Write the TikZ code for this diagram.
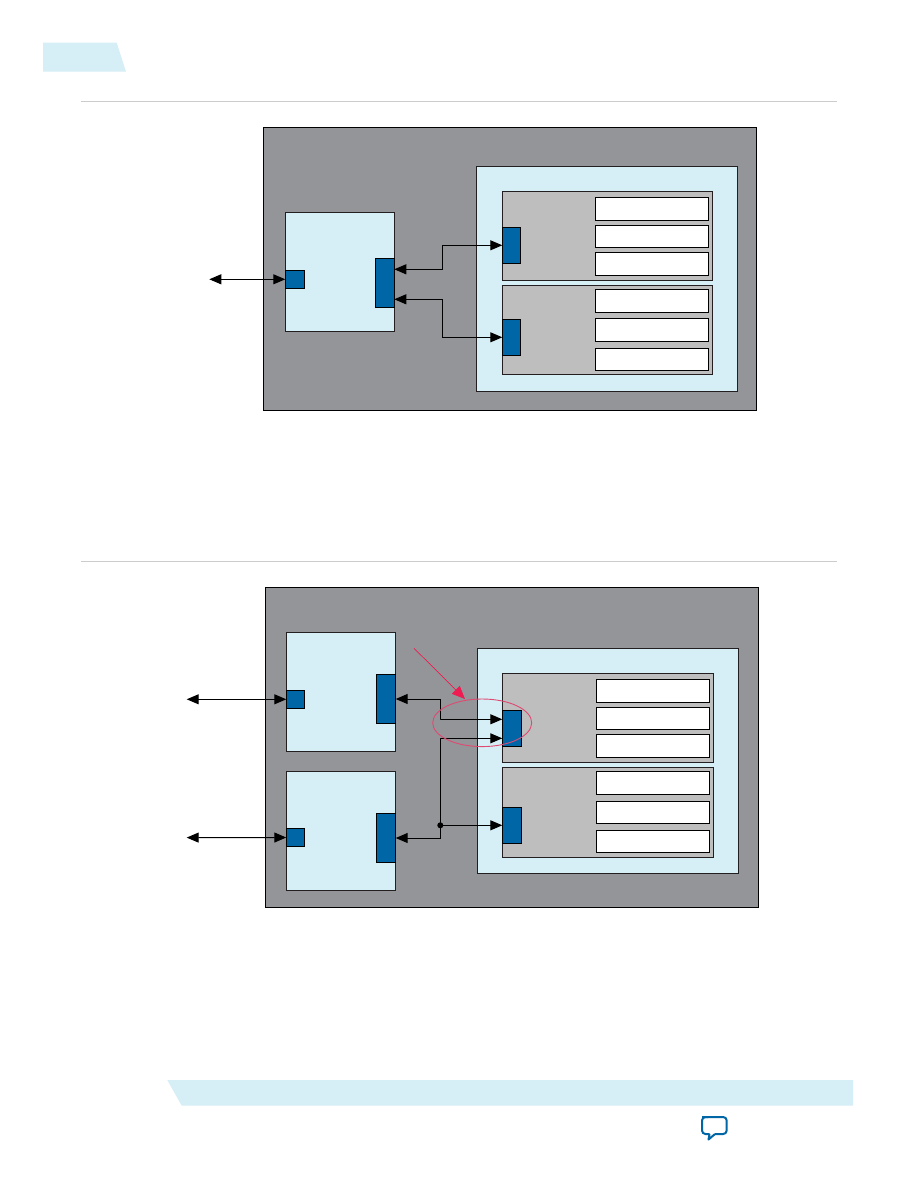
\documentclass[tikz,border=0pt]{standalone}
\usetikzlibrary{arrows.meta,calc,shapes.geometric}
\definecolor{outergrey}{HTML}{939598}
\definecolor{paleblue}{HTML}{D6EEF5}
\definecolor{midgrey}{HTML}{BEBEBE}
\definecolor{portblue}{HTML}{0066A6}
\definecolor{inkline}{HTML}{231F20}
\definecolor{rulegrey}{HTML}{CCCCCC}
\definecolor{markred}{HTML}{EE1C52}
\definecolor{ringred}{HTML}{DE4A72}
\tikzset{
  boxbase/.style={draw=inkline,line width=1pt,inner sep=0pt,outer sep=0pt,anchor=north west,rectangle},
  outerbox/.style={boxbase,fill=outergrey,draw=black},
  panelbox/.style={boxbase,fill=paleblue},
  greybox/.style={boxbase,fill=midgrey},
  whitebox/.style={boxbase,fill=white,draw=black},
  portbox/.style={boxbase,fill=portblue,draw=black},
  link/.style={line width=1pt,black,line join=miter},
  biarrow/.style={link,{Triangle[length=12pt,width=10pt]}-{Triangle[length=12pt,width=10pt]}},
  onearrow/.style={link,-{Triangle[length=12pt,width=10pt]}},
  rulel/.style={draw=rulegrey,line width=1pt},
  banner/.style={fill=paleblue,draw=none},
  joint/.style={circle,fill=black,inner sep=0pt,minimum size=6pt,outer sep=0pt},
  ring/.style={draw=ringred,line width=0.9pt,ellipse,inner sep=0pt,outer sep=0pt},
  pointer/.style={draw=markred,line width=0.7pt,-{Triangle[length=13pt,width=11pt,fill=markred]}},
}
% \bx{name}{style}{x1}{y1}{x2}{y2}
\newcommand{\bx}[6]{%
  \pgfmathsetmacro{\bw}{#5-#3}\pgfmathsetmacro{\bh}{#6-#4}%
  \node[#2,minimum width=\bw pt,minimum height=\bh pt] (#1) at (#3,#4) {};}
\begin{document}
\begin{tikzpicture}[x=1pt,y=-1pt]
\useasboundingbox (0,0) rectangle (918,1188);
\fill[white] (0,0) rectangle (918,1188);
% page furniture
\fill[banner] (43,42.7) -- (116.7,42.7) -- (126,71.7) -- (43,71.7) -- cycle;
\draw[rulel] (81,101.3) -- (837,101.3);
\draw[rulel] (81,561.3) -- (837,561.3);
\fill[banner] (167.3,1080) -- (853,1080) -- (853,1105.7) -- (181.7,1105.7) -- cycle;
\draw[portblue,line width=2pt,line join=round,rounded corners=3.5pt]
  (702,1117) -- (726.7,1117) -- (726.7,1134) -- (715,1134);
\draw[portblue,line width=2pt,line join=round]
  (715,1134) -- (708.5,1139.5) -- (709.5,1134);
\draw[portblue,line width=2pt,line join=round,rounded corners=3.5pt]
  (709.5,1134) -- (702,1134) -- (702,1117) -- (708,1117);
% ===== upper diagram =====
\bx{oA}{outerbox}{263.5}{127.5}{756.5}{410.5}
\bx{fA}{panelbox}{285.3}{212.3}{394.3}{331.3}
\bx{sA}{portbox}{285.3}{270.3}{304.7}{288.3}
\bx{rA}{portbox}{375.3}{258.3}{394.3}{307.7}
\bx{pA}{panelbox}{476.3}{166.3}{737.3}{391.3}
\bx{gA}{greybox}{502.3}{191.3}{712.7}{280.3}
\bx{gB}{greybox}{502.3}{285.3}{712.7}{374.3}
\bx{bA}{portbox}{502.3}{227.3}{520.7}{263.3}
\bx{bB}{portbox}{502.3}{319.3}{520.7}{355.3}
\bx{wA}{whitebox}{595.3}{197.3}{708.7}{220.7}
\bx{wB}{whitebox}{595.3}{225.3}{708.7}{247.7}
\bx{wC}{whitebox}{595.3}{252.3}{708.7}{275.7}
\bx{wD}{whitebox}{595.3}{289.3}{708.7}{312.7}
\bx{wE}{whitebox}{595.3}{318.3}{708.7}{341.7}
\bx{wF}{whitebox}{595.3}{348.3}{708.7}{370.7}
\coordinate (extA) at (209.3,279.3);
\coordinate (midA) at (442.3,245.3);
\coordinate (midAb) at (442.3,337.3);
\draw[biarrow] (extA) -- (sA.west);
\draw[biarrow] ($(rA.north east)!0.223!(rA.south east)$) -| (midA) |- (bA.west);
\draw[biarrow] ($(rA.north east)!0.83!(rA.south east)$) -| (midAb) |- (bB.west);
% ===== lower diagram =====
\bx{oB}{outerbox}{265.3}{587.5}{758.5}{907.5}
\bx{fB}{panelbox}{286.3}{632.3}{395.7}{751.3}
\bx{sB}{portbox}{286.3}{690.3}{304.7}{708.3}
\bx{rB}{portbox}{376.3}{674.3}{395.7}{723.7}
\bx{fC}{panelbox}{286.3}{771.3}{395.7}{890.3}
\bx{sC}{portbox}{286.3}{828.3}{304.7}{846.7}
\bx{rC}{portbox}{376.3}{813.3}{395.7}{862.7}
\bx{pB}{panelbox}{477.3}{648.3}{738.3}{873.3}
\bx{gC}{greybox}{502.3}{673.3}{713.7}{762.3}
\bx{gD}{greybox}{502.3}{767.3}{713.7}{857.3}
\bx{bC}{portbox}{502.3}{710.3}{521.7}{746.7}
\bx{bD}{portbox}{502.3}{807.3}{521.7}{843.3}
\bx{wG}{whitebox}{596.3}{679.3}{709.7}{702.7}
\bx{wH}{whitebox}{596.3}{707.3}{709.7}{729.7}
\bx{wI}{whitebox}{596.3}{734.3}{709.7}{757.7}
\bx{wJ}{whitebox}{596.3}{771.3}{709.7}{794.7}
\bx{wK}{whitebox}{596.3}{801.3}{709.7}{823.7}
\bx{wL}{whitebox}{596.3}{830.3}{709.7}{852.7}
\coordinate (extB) at (186.7,699.3);
\coordinate (extC) at (186.7,837.6);
\coordinate (midB) at (440.3,719.3);
\coordinate (midC) at (440.3,738.3);
\draw[biarrow] (extB) -- (sB.west);
\draw[biarrow] (extC) -- (sC.west);
\draw[biarrow] (rB.east) -| (midB) |- ($(bC.north west)!0.247!(bC.south west)$);
\draw[biarrow] (rC.east) -| (midC) |- ($(bC.north west)!0.77!(bC.south west)$);
\node[joint] (jn) at (midC |- bD.west) {};
\draw[onearrow] (jn) -- (bD.west);
% highlight
\node[ring,minimum width=99pt,minimum height=47.6pt] (hl) at (482.2,722.8) {};
\coordinate (ptr) at (414,648.3);
\coordinate (ptrend) at (465,699);
\draw[pointer] (ptr) -- (ptrend);
\end{tikzpicture}
\end{document}
